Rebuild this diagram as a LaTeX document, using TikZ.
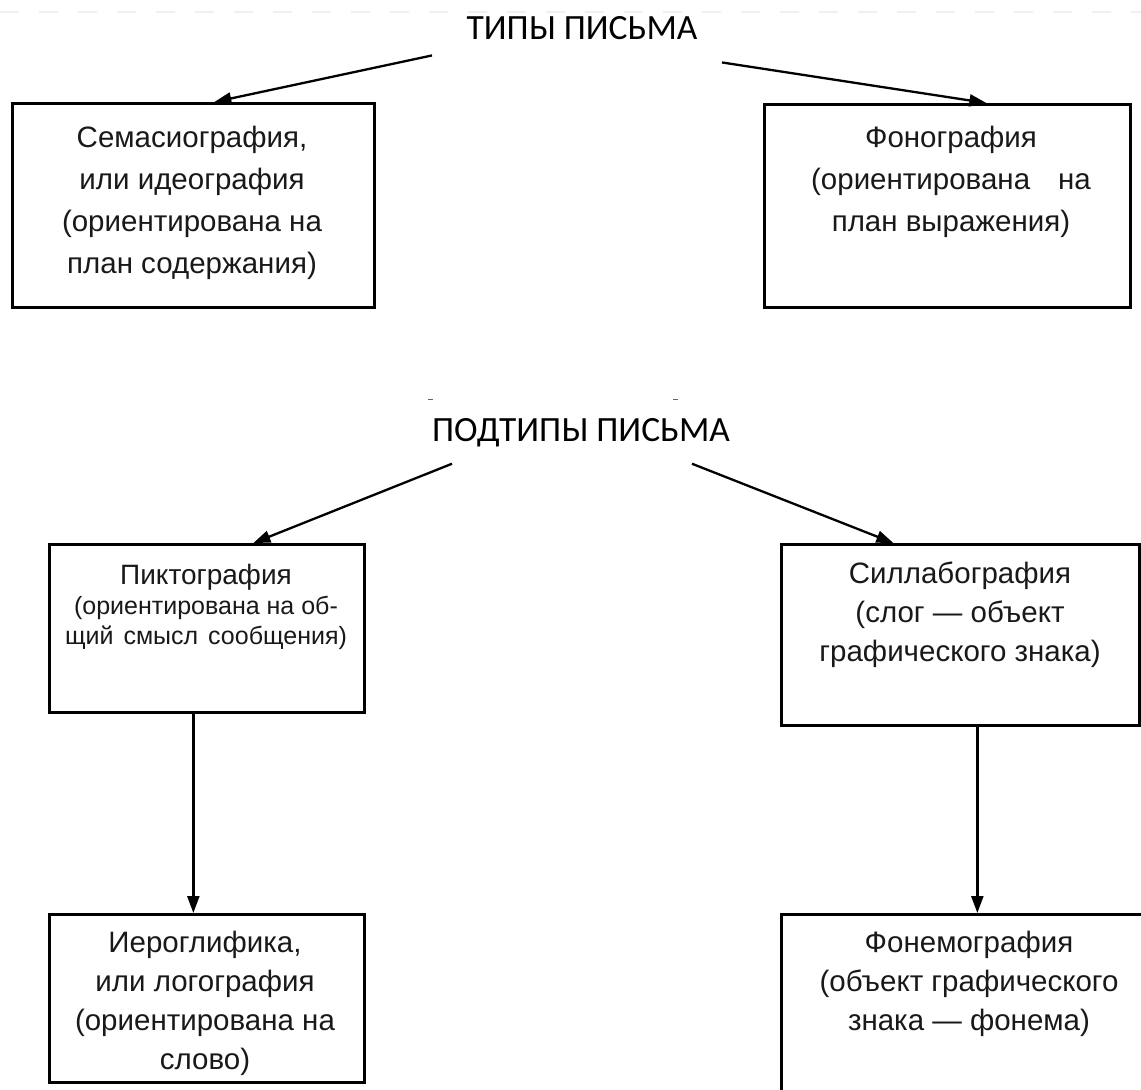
\documentclass[tikz,border=0pt]{standalone}
\usepackage{fontspec}
\setmainfont{Liberation Sans}
\newfontfamily\titlefont{Carlito}
\usetikzlibrary{arrows.meta,calc}
\newcommand\mlines[1]{\begin{tabular}[t]{@{}c@{}}#1\end{tabular}}
\begin{document}
\begin{tikzpicture}[x=1pt,y=-1pt,
  box/.style={draw=black, line width=2.7pt, inner sep=0pt, anchor=north west},
  arr/.style={line width=2.3pt, -{Triangle[length=17pt,width=12pt]}},
  ttl/.style={font=\titlefont\fontsize{35.5}{40}\selectfont, anchor=base, inner sep=0pt},
  txt/.style={anchor=base, inner sep=0pt, text=black!90, font=\fontsize{29.5}{42}\selectfont},
  txtb/.style={anchor=base, inner sep=0pt, text=black!90, font=\fontsize{29.5}{39}\selectfont}]
\useasboundingbox (0,0) rectangle (1141,1090);
\clip (0,0) rectangle (1141,1090);
\fill[white] (0,0) rectangle (1141,1090);
% faint scan line at top
\draw[black!6, line width=2pt, dash pattern=on 19pt off 20pt] (0,12) -- (1141,12);
% tiny marks
\draw[black!60, line width=1pt] (428,399) -- (433,399);
\draw[black!60, line width=1pt] (673,399) -- (678,399);

% titles
\node[ttl] (T1) at (582,39) {ТИПЫ ПИСЬМА};
\node[ttl] (T2) at (581,441) {ПОДТИПЫ ПИСЬМА};

% boxes
\node[box, minimum width=362pt, minimum height=204pt] (A) at (11,102) {};
\node[box, minimum width=366pt, minimum height=203pt] (B) at (763,103) {};
\node[box, minimum width=315pt, minimum height=168pt] (C) at (48,543) {};
\node[box, minimum width=358pt, minimum height=181pt] (D) at (780,543) {};
\node[box, minimum width=315pt, minimum height=168pt] (E) at (48,913) {};
\node[box, minimum width=400pt, minimum height=220pt] (F) at (780,913) {};

% texts
\node[txt] (At) at (192,147) {\mlines{Семасиография,\\или идеография\\(ориентирована на\\план содержания)}};
\node[txt] (Bt) at (951,147) {\mlines{Фонография\\(ориентирована\hspace{28pt}на\\план выражения)}};
\node[anchor=base, inner sep=0pt, text=black!90, font=\fontsize{25}{30}\selectfont] (Ct) at (206,584)
  {\mlines{\fontsize{28}{30}\selectfont Пиктография\\(ориентирована на об-\\щий\hspace{3pt} смысл\hspace{3pt} сообщения)}};
\node[txtb] (Dt) at (960,583) {\mlines{Силлабография\\(слог — объект\\графического знака)}};
\node[txtb] (Et) at (205,952) {\mlines{Иероглифика,\\или логография\\(ориентирована на\\слово)}};
\node[txtb] (Ft) at (969,952) {\mlines{Фонемография\\(объект графического\\знака — фонема)}};

% connectors
\draw[arr] ($(T1.south)+(-150,16)$) -- ($(A.north)+(21,0)$);
\draw[arr] ($(T1.south)+(140,23)$) -- ($(B.north)+(39,0)$);
\draw[arr] ($(T2.south)+(-129,17)$) -- ($(C.north)+(46.5,0)$);
\draw[arr] ($(T2.south)+(111,17)$) -- ($(D.north)+(-67,0)$);
\draw[arr] ($(C.south)+(-13.5,0)$) coordinate (c1) -- (c1 |- E.north);
\draw[arr] ($(D.south)+(17,0)$) coordinate (d1) -- (d1 |- F.north);
\end{tikzpicture}
\end{document}
